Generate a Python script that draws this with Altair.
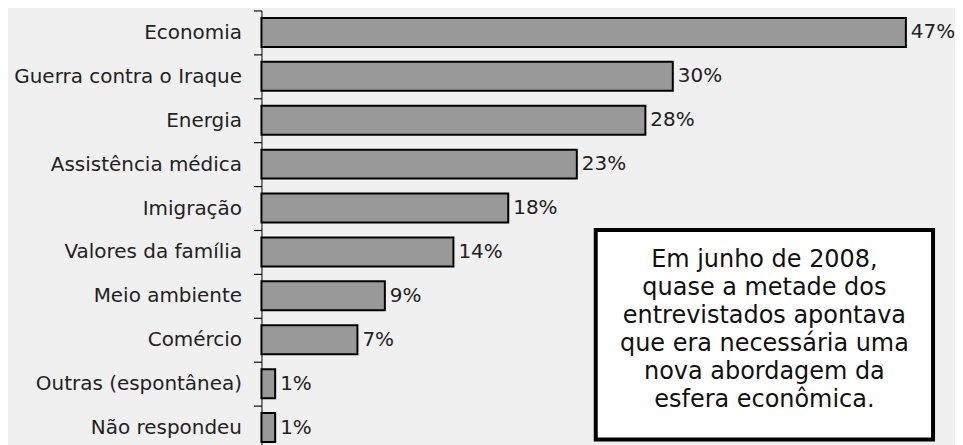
import altair as alt
import pandas as pd

categories = ["Economia", "Guerra contra o Iraque", "Energia", "Assistência médica",
              "Imigração", "Valores da família", "Meio ambiente", "Comércio",
              "Outras (espontânea)", "Não respondeu"]
values = [47, 30, 28, 23, 18, 14, 9, 7, 1, 1]
labels = [f"{v}%" for v in values]
note_lines = ["Em junho de 2008,", "quase a metade dos", "entrevistados apontava",
              "que era necessária uma", "nova abordagem da", "esfera econômica."]

df = pd.DataFrame({"cat": categories, "val": values, "label": labels})

FONT = "DejaVu Sans"
W, H = 687, 435

y = alt.Y("cat:N", sort=categories,
          scale=alt.Scale(range=[0, 440], paddingInner=0.34, paddingOuter=0.17),
          axis=alt.Axis(title=None, ticks=True, bandPosition=0, tickOffset=-7.5,
                        labelOffset=7.5, tickSize=8, tickWidth=1.2,
                        labelPadding=12, labelFontSize=20, labelFont=FONT,
                        labelColor="#222222", domainColor="black", tickColor="#111111",
                        domainWidth=1, grid=False, labelLimit=400))
x = alt.X("val:Q", scale=alt.Scale(domain=[0, 50], nice=False), axis=None)

bars = alt.Chart(df).mark_bar(fill="#999999", stroke="black", strokeWidth=2).encode(x=x, y=y)
text = alt.Chart(df).mark_text(align="left", baseline="middle", dx=5, fontSize=20,
                               font=FONT, color="#222222").encode(x=x, y=y, text="label:N")

anchor = pd.DataFrame({"a": [0]})
box = alt.Chart(anchor).mark_rect(fill="white", stroke="black", strokeWidth=4).encode(
    x=alt.value(335), x2=alt.value(673), y=alt.value(220), y2=alt.value(430))
note = alt.Chart(anchor).mark_text(text=note_lines, lineHeight=28, fontSize=24, font=FONT,
                                   align="center", baseline="alphabetic",
                                   color="#111111").encode(
    x=alt.value(504), y=alt.value(257))

chart = alt.layer(bars, text, box, note).properties(
    width=W, height=H,
    autosize=alt.AutoSizeParams(type="none"),
    padding={"left": 254, "top": 2, "right": 8, "bottom": 0},
    background="#f0f0f0",
).configure_view(stroke=None)

chart.save("out.html", embed_options={"renderer": "svg", "actions": False})
